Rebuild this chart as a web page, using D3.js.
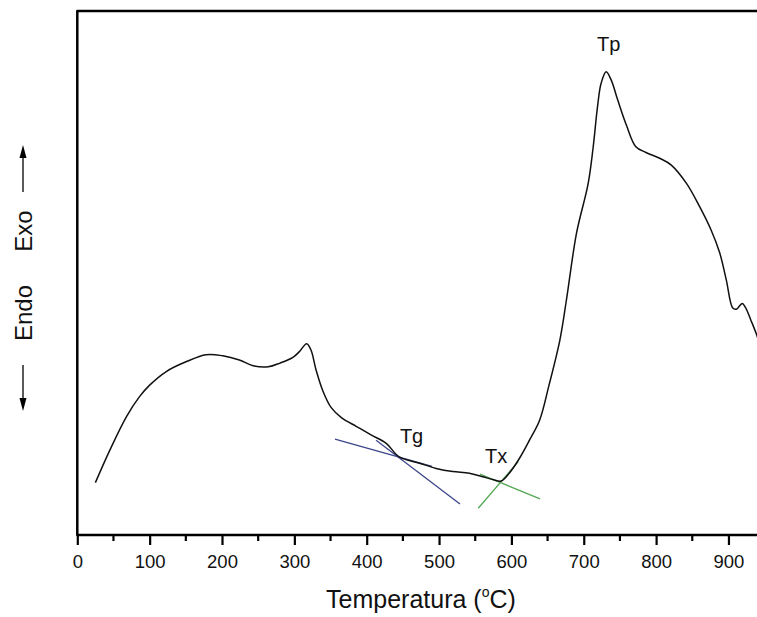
<!DOCTYPE html>
<html>
<head>
<meta charset="utf-8">
<script src="https://cdn.jsdelivr.net/npm/d3@7"></script>
<style>
  body { margin: 0; background: #fff; }
  svg { display: block; font-family: "Liberation Sans", Arial, sans-serif; }
</style>
</head>
<body>
<div id="chart"></div>
<script>
var width  = 757;
var height = 617;

// DSC trace, temperature in degC, signal in arbitrary units (exo up)
var temperature = [25, 45, 68, 86, 100, 123, 151, 178, 201, 224, 243, 264, 280, 298, 307, 317,
                   323, 330, 340, 351, 365, 386, 406, 427, 445, 473, 496, 519, 542, 561,
                   574, 586, 597, 611, 625, 639, 652, 667, 676, 690, 706, 713, 719, 724, 731,
                   738, 747, 759, 772, 786, 805, 821, 842, 860, 876, 888, 897, 906, 911, 919,
                   924, 931, 939, 945];
var signal = [10.0, 16.2, 22.6, 26.4, 28.6, 31.2, 33.1, 34.4, 34.2, 33.4, 32.3, 32.1, 32.8, 33.9, 35.0, 36.5,
              35.3, 31.5, 27.3, 24.3, 22.4, 20.7, 19.1, 17.5, 14.9, 13.7, 12.7, 12.1, 11.8, 11.1,
              10.6, 10.3, 11.8, 14.6, 18.1, 21.9, 28.6, 37.2, 44.8, 57.6, 67.0, 74.0, 81.7, 86.2, 88.4,
              86.8, 83.0, 78.2, 74.1, 73.0, 71.9, 70.6, 67.1, 62.7, 58.2, 53.8, 48.7, 43.3, 43.1, 44.2,
              43.3, 41.0, 38.2, 35.5];

var xTicks = [0, 100, 200, 300, 400, 500, 600, 700, 800, 900];
var xMinorTicks = [50, 150, 250, 350, 450, 550, 650, 750, 850];

// tangent lines: [T1, S1, T2, S2]
var tangents = [
  [356.2, 18.3, 490.3, 13.1],
  [413.0, 18.1, 528.9, 5.9],
  [556.6, 11.6, 639.6, 6.9],
  [554.2, 5.1, 609.5, 14.0]
];
var tangentColors = ["#3b4589", "#3b4589", "#55a955", "#55a955"];

var labelNames = ["Tp", "Tg", "Tx"];
var labelT = [734.5, 445.9, 563.5];
var labelS = [92.4, 17.6, 13.7];
var labelAnchor = ["middle", "start", "start"];

var margin = {left: 77.3, top: 11, bottom: 82};

var x = d3.scaleLinear()
          .domain([0, 1000])
          .range([margin.left, margin.left + 723.5]);

var y = d3.scaleLinear()
          .domain([0, 100])
          .range([height - margin.bottom, margin.top]);

var svg = d3.select('#chart')
  .append('svg')
  .attr('width', width)
  .attr('height', height);

// frame (left, top, bottom; right side runs off the picture)
var x0 = x(0), x1 = x(1000), yb = y(0), yt = y(100);
svg.append('path')
   .attr('d', 'M' + x1 + ',' + yt + 'L' + x0 + ',' + yt + 'L' + x0 + ',' + yb + 'L' + x1 + ',' + yb)
   .attr('fill', 'none')
   .attr('stroke', '#000')
   .attr('stroke-width', 2.5)
   .attr('stroke-linejoin', 'round');

var xAxis = d3.axisBottom(x)
              .tickValues(xTicks)
              .tickSize(10)
              .tickPadding(10)
              .tickFormat(d3.format('d'));

var gx = svg.append('g')
   .attr('transform', 'translate(0,' + yb + ')')
   .call(xAxis);
gx.select('.domain').remove();
gx.selectAll('line').attr('stroke-width', 2.2);
gx.selectAll('text')
  .attr('font-size', 18.5)
  .attr('font-family', '"Liberation Sans", Arial, sans-serif')
  .attr('fill', '#111');

svg.append('g')
   .selectAll('line')
   .data(xMinorTicks)
   .enter()
   .append('line')
   .attr('x1', function(d) { return x(d); })
   .attr('x2', function(d) { return x(d); })
   .attr('y1', yb)
   .attr('y2', yb + 6)
   .attr('stroke', '#000')
   .attr('stroke-width', 2.2);

// x title
var title = svg.append('text')
   .attr('x', x(475))
   .attr('y', 608)
   .attr('text-anchor', 'middle')
   .attr('font-size', 25)
   .attr('fill', '#111');
title.append('tspan').text('Temperatura (');
title.append('tspan').attr('font-size', 14).attr('dy', -11).text('o');
title.append('tspan').attr('dy', 11).text('C)');

// Endo / Exo labels with arrows
var ax = 23;
svg.append('line')
   .attr('x1', ax).attr('x2', ax).attr('y1', 192).attr('y2', 155)
   .attr('stroke', '#000').attr('stroke-width', 1.3);
svg.append('path')
   .attr('d', 'M' + ax + ',145L' + (ax - 3.5) + ',158L' + (ax + 3.5) + ',158Z')
   .attr('fill', '#000');
svg.append('line')
   .attr('x1', ax).attr('x2', ax).attr('y1', 365).attr('y2', 400)
   .attr('stroke', '#000').attr('stroke-width', 1.3);
svg.append('path')
   .attr('d', 'M' + ax + ',411L' + (ax - 3.5) + ',398L' + (ax + 3.5) + ',398Z')
   .attr('fill', '#000');

svg.append('text')
   .attr('transform', 'translate(32,231)rotate(-90)')
   .attr('text-anchor', 'middle')
   .attr('font-size', 24)
   .attr('fill', '#111')
   .text('Exo');
svg.append('text')
   .attr('transform', 'translate(32,313)rotate(-90)')
   .attr('text-anchor', 'middle')
   .attr('font-size', 24)
   .attr('fill', '#111')
   .text('Endo');

// tangents
svg.append('g')
   .selectAll('line')
   .data(tangents)
   .enter()
   .append('line')
   .attr('x1', function(d) { return x(d[0]); })
   .attr('y1', function(d) { return y(d[1]); })
   .attr('x2', function(d) { return x(d[2]); })
   .attr('y2', function(d) { return y(d[3]); })
   .attr('stroke', function(d, i) { return tangentColors[i]; })
   .attr('stroke-width', 1.3);

// DSC curve
var points = temperature.map(function(t, i) { return [t, signal[i]]; });
var line = d3.line()
             .x(function(d) { return x(d[0]); })
             .y(function(d) { return y(d[1]); })
             .curve(d3.curveCatmullRom.alpha(0.5));

svg.append('path')
   .datum(points)
   .attr('d', line)
   .attr('fill', 'none')
   .attr('stroke', '#111')
   .attr('stroke-width', 1.5)
   .attr('stroke-linejoin', 'round');

// annotations
svg.append('g')
   .selectAll('text')
   .data(labelNames)
   .enter()
   .append('text')
   .attr('x', function(d, i) { return x(labelT[i]); })
   .attr('y', function(d, i) { return y(labelS[i]); })
   .attr('text-anchor', function(d, i) { return labelAnchor[i]; })
   .attr('font-size', 20)
   .attr('fill', '#111')
   .text(function(d) { return d; });
</script>
</body>
</html>
